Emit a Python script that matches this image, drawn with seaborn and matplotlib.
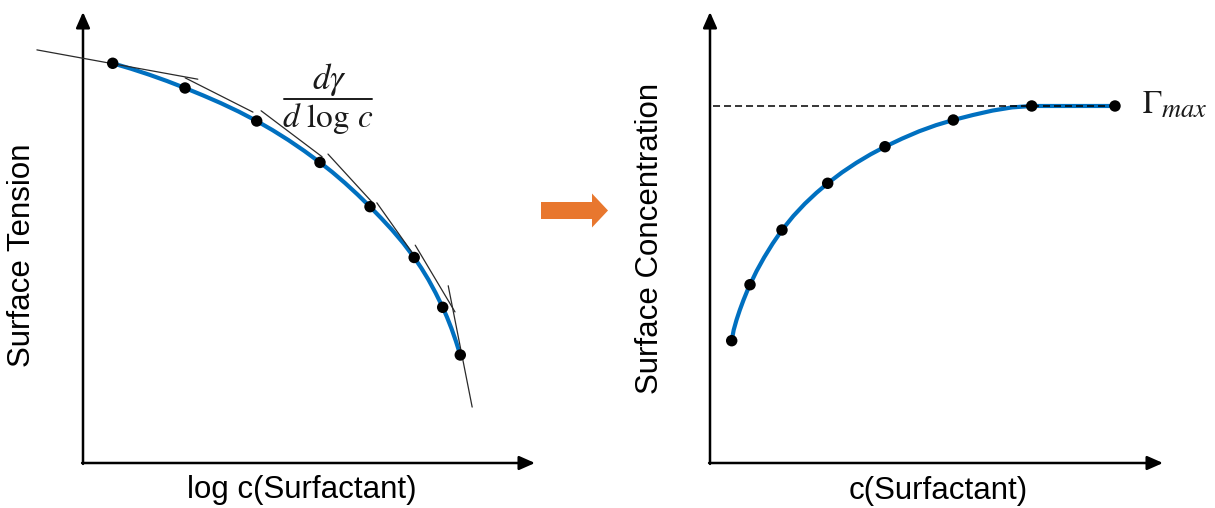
import matplotlib
matplotlib.use("Agg")
import matplotlib.pyplot as plt
import numpy as np
import pandas as pd
import seaborn as sns
from matplotlib.patches import FancyArrow

# ---- Gibbs isotherm (left): surface tension vs. log concentration, arbitrary units
log_conc = [0.657, 2.257, 3.843, 5.243, 6.350, 7.327, 7.958, 8.347]
tension = [8.863, 8.315, 7.583, 6.665, 5.683, 4.557, 3.452, 2.395]

# smooth isotherm drawn through the samples
fit_logc = [0.657, 1.057, 1.457, 1.857, 2.257, 2.653, 3.050, 3.446, 3.843,
            4.193, 4.543, 4.893, 5.243, 5.520, 5.796, 6.073, 6.350, 6.594,
            6.838, 7.083, 7.327, 7.485, 7.643, 7.800, 7.958, 8.055, 8.153,
            8.250, 8.347]
fit_tension = [8.863, 8.744, 8.613, 8.470, 8.315, 8.152, 7.979, 7.791, 7.583,
               7.381, 7.161, 6.922, 6.665, 6.446, 6.209, 5.954, 5.683, 5.432,
               5.168, 4.879, 4.557, 4.323, 4.064, 3.774, 3.452, 3.229, 2.980,
               2.702, 2.395]

# tangent segments dγ/dlog c drawn along the isotherm (start / end points)
tan_x0 = [-1.02, 2.26, 3.94, 5.42, 6.50, 7.35, 8.08]
tan_y0 = [9.16, 8.54, 7.81, 6.85, 5.77, 4.83, 3.93]
tan_x1 = [2.54, 3.76, 5.29, 6.39, 7.32, 8.23, 8.61]
tan_y1 = [8.51, 7.78, 6.79, 5.79, 4.61, 3.35, 1.24]

# ---- Adsorption isotherm (right): surface concentration vs. concentration
conc = [0.479, 0.883, 1.589, 2.598, 3.863, 5.371, 7.102, 8.940]
surf_conc = [2.712, 3.953, 5.166, 6.202, 7.013, 7.605, 7.916, 7.916]

# smooth saturation curve through the samples
fit_conc = [0.479, 0.523, 0.585, 0.658, 0.740, 0.830, 0.883, 1.029, 1.196,
            1.382, 1.589, 1.841, 2.094, 2.347, 2.598, 2.914, 3.231, 3.547,
            3.863, 4.241, 4.617, 4.993, 5.371, 5.804, 6.236, 6.669, 7.102, 8.940]
fit_surf = [2.712, 2.949, 3.171, 3.392, 3.614, 3.836, 3.953, 4.257, 4.560,
            4.863, 5.166, 5.478, 5.749, 5.988, 6.202, 6.443, 6.656, 6.845,
            7.013, 7.193, 7.355, 7.492, 7.605, 7.716, 7.814, 7.885, 7.916, 7.916]
gamma_max = 7.916

BLUE = "#0070C0"
ORANGE = "#E8772E"
INK = "#000000"

sns.set_theme(style="white")
plt.rcParams["font.family"] = ["Liberation Sans", "DejaVu Sans"]
plt.rcParams["mathtext.fontset"] = "stix"

W, H = 1215, 508
fig = plt.figure(figsize=(W / 100, H / 100), dpi=100)
fig.patch.set_facecolor("white")


def frame(x0, x1, y0, y1):
    """Axes whose origin sits at pixel (x0, y0) with arrows reaching x1 / y1."""
    ax = fig.add_axes([x0 / W, (H - y0) / H, (x1 - x0) / W, (y0 - y1) / H])
    ax.set_xlim(0, 10)
    ax.set_ylim(0, 10)
    ax.set_facecolor("none")
    for s in ax.spines.values():
        s.set_visible(False)
    ax.set_xticks([])
    ax.set_yticks([])
    arrow = dict(arrowstyle="-|>,head_length=0.95,head_width=0.42",
                 mutation_scale=10, lw=1.8, color=INK,
                 shrinkA=0, shrinkB=0)
    ax.annotate("", xy=(0, 1), xytext=(0, -0.002), xycoords="axes fraction",
                arrowprops=arrow, annotation_clip=False)
    ax.annotate("", xy=(1, 0), xytext=(-0.002, 0), xycoords="axes fraction",
                arrowprops=arrow, annotation_clip=False)
    return ax


# ---------------- left panel ----------------
axL = frame(83, 535, 463, 12)

tan_df = pd.DataFrame({
    "seg": np.repeat(np.arange(len(tan_x0)), 2),
    "x": np.ravel(np.column_stack([tan_x0, tan_x1])),
    "y": np.ravel(np.column_stack([tan_y0, tan_y1])),
})
sns.lineplot(data=tan_df, x="x", y="y", units="seg", estimator=None, sort=False,
             color="#2a2a2a", lw=0.9, ax=axL, clip_on=False, zorder=4)

fitL = pd.DataFrame({"logc": fit_logc, "gamma": fit_tension})
sns.lineplot(data=fitL, x="logc", y="gamma", sort=False, color=BLUE, lw=3.0,
             ax=axL, zorder=3)
left_df = pd.DataFrame({"logc": log_conc, "gamma": tension})
sns.scatterplot(data=left_df, x="logc", y="gamma", color=INK, s=68,
                edgecolor="none", ax=axL, zorder=5, clip_on=False)
axL.set_xlabel("")
axL.set_ylabel("")

# ---------------- right panel ----------------
axR = frame(710, 1163, 463, 12)

axR.hlines(gamma_max, 0.07, conc[-1], colors=INK, lw=1.1,
           linestyles=(0, (4.6, 2.6)), zorder=4)
fitR = pd.DataFrame({"c": fit_conc, "g": fit_surf})
sns.lineplot(data=fitR, x="c", y="g", sort=False, color=BLUE, lw=3.0,
             ax=axR, zorder=3)
right_df = pd.DataFrame({"c": conc, "g": surf_conc})
sns.scatterplot(data=right_df, x="c", y="g", color=INK, s=68,
                edgecolor="none", ax=axR, zorder=5, clip_on=False)
axR.set_xlabel("")
axR.set_ylabel("")

# ---------------- annotations (pixel overlay) ----------------
ov = fig.add_axes([0, 0, 1, 1], zorder=-1)
ov.set_xlim(0, W)
ov.set_ylim(H, 0)
ov.axis("off")

label_kw = dict(fontsize=22.5, color=INK, ha="center", va="center")
ov.text(22, 255, "Surface Tension", rotation=90, **label_kw)
ov.text(302, 490, "log c(Surfactant)", **label_kw)
ov.text(650, 238, "Surface Concentration", rotation=90, **label_kw)
ov.text(938, 491, "c(Surfactant)", **label_kw)

# slope expression dγ / d log c
MATH = "#1a1a1a"
ov.text(329, 79, r"$d\gamma$", fontsize=25, ha="center", va="center", color=MATH)
ov.plot([284, 372], [99, 99], color=MATH, lw=1.4)
ov.text(328, 119, r"$d\ \log\, c$", fontsize=24, ha="center", va="center", color=MATH)

# saturation label Γ_max
ov.text(1142, 113, r"$\Gamma$", fontsize=23, ha="left", va="baseline", color=MATH)
ov.text(1161, 117, r"$max$", fontsize=19, ha="left", va="baseline", color=MATH)

# transition arrow between the panels
ov.add_patch(FancyArrow(541, 210.5, 67, 0, width=17, head_width=34, head_length=16,
                        length_includes_head=True, color=ORANGE, lw=0))

fig.savefig("out.png", dpi=100, facecolor="white")
